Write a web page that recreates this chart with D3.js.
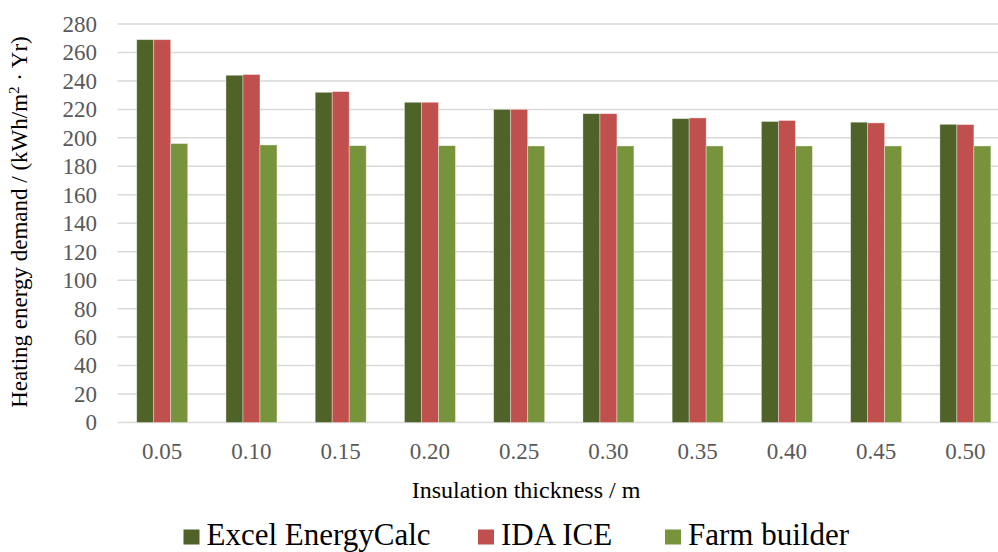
<!DOCTYPE html>
<html>
<head>
<meta charset="utf-8">
<script src="https://cdn.jsdelivr.net/npm/d3@7/dist/d3.min.js"></script>
<style>
  html, body { margin: 0; padding: 0; background: #fff; }
  svg { display: block; }
</style>
</head>
<body>
<svg id="chart" width="998" height="552"></svg>
<script>
// Insulation thickness categories (m)
const categories = ["0.05", "0.10", "0.15", "0.20", "0.25", "0.30", "0.35", "0.40", "0.45", "0.50"];
// Heating energy demand per tool, kWh/m²·Yr
const excelEnergyCalc = [269, 244, 232, 225, 220, 217, 213.5, 211.5, 211, 209.5];
const idaIce          = [269, 244.5, 232.5, 225, 220, 217, 214, 212.2, 210.5, 209.3];
const farmBuilder     = [196, 195, 194.5, 194.5, 194.3, 194.3, 194.3, 194.3, 194.3, 194.3];
const seriesNames = ["Excel EnergyCalc", "IDA ICE", "Farm builder"];
const seriesColors = ["#4F6228", "#C0504D", "#77933C"];
const yTicks = d3.range(0, 281, 20);

const FONT = "'Liberation Serif', 'Times New Roman', serif";
const series = [excelEnergyCalc, idaIce, farmBuilder];
const svg = d3.select("#chart").attr("font-family", FONT);

const plot = { left: 117.6, right: 1010, top: 24, bottom: 422.5 };

const x = d3.scaleBand().domain(categories).range([plot.left, plot.right]).paddingInner(0).paddingOuter(0);
const y = d3.scaleLinear().domain([0, 280]).range([plot.bottom, plot.top]);

const groupWidth = 51;
const inner = d3.scaleBand().domain(d3.range(series.length)).range([0, groupWidth]);

// gridlines
svg.append("g")
  .selectAll("line")
  .data(yTicks)
  .join("line")
  .attr("x1", plot.left).attr("x2", plot.right)
  .attr("y1", d => y(d)).attr("y2", d => y(d))
  .attr("stroke", "#D9D9D9").attr("stroke-width", 1.5);

// bars
const groups = svg.append("g")
  .selectAll("g")
  .data(categories)
  .join("g")
  .attr("transform", c => `translate(${x(c) + (x.bandwidth() - groupWidth) / 2},0)`);

groups.selectAll("rect")
  .data((c, i) => series.map((s, k) => ({ k, v: s[i] })))
  .join("rect")
  .attr("x", d => inner(d.k))
  .attr("width", inner.bandwidth())
  .attr("y", d => y(d.v))
  .attr("height", d => y(0) - y(d.v))
  .attr("fill", d => seriesColors[d.k])
  .attr("stroke", "rgba(255,255,255,0.45)")
  .attr("stroke-width", 0.8);

// y axis labels
const yAxis = d3.axisLeft(y).tickValues(yTicks).tickSize(0).tickPadding(0);
const gy = svg.append("g").attr("transform", `translate(97,0)`).call(yAxis)
  .attr("font-family", FONT).attr("font-size", 23);
gy.select(".domain").remove();
gy.selectAll("text").attr("fill", "#595959");

// x axis labels
const xAxis = d3.axisBottom(x).tickSize(0).tickPadding(0);
const gx = svg.append("g").attr("transform", `translate(0,${plot.bottom + 20})`).call(xAxis)
  .attr("font-family", FONT).attr("font-size", 23);
gx.select(".domain").remove();
gx.selectAll("text").attr("fill", "#595959");

// axis titles
svg.append("text")
  .attr("x", 526).attr("y", 498)
  .attr("text-anchor", "middle")
  .attr("font-size", 24)
  .attr("fill", "#000")
  .text("Insulation thickness / m");

const yt = svg.append("text")
  .attr("transform", "translate(27,222) rotate(-90)")
  .attr("text-anchor", "middle")
  .attr("font-size", 23)
  .attr("fill", "#000");
yt.append("tspan").text("Heating energy demand / (kWh/m");
yt.append("tspan").attr("dy", -8).attr("font-size", 15).text("2");
yt.append("tspan").attr("dy", 8).text(" · Yr)");

// legend
const legendX = [183.5, 478, 665];
const legend = svg.append("g")
  .selectAll("g")
  .data(seriesNames)
  .join("g")
  .attr("transform", (d, i) => `translate(${legendX[i]},529.5)`);
legend.append("rect")
  .attr("width", 16).attr("height", 15)
  .attr("fill", (d, i) => seriesColors[i]);
legend.append("text")
  .attr("x", 23).attr("y", 15.5)
  .attr("font-size", 31)
  .attr("fill", "#000")
  .text(d => d);
</script>
</body>
</html>
